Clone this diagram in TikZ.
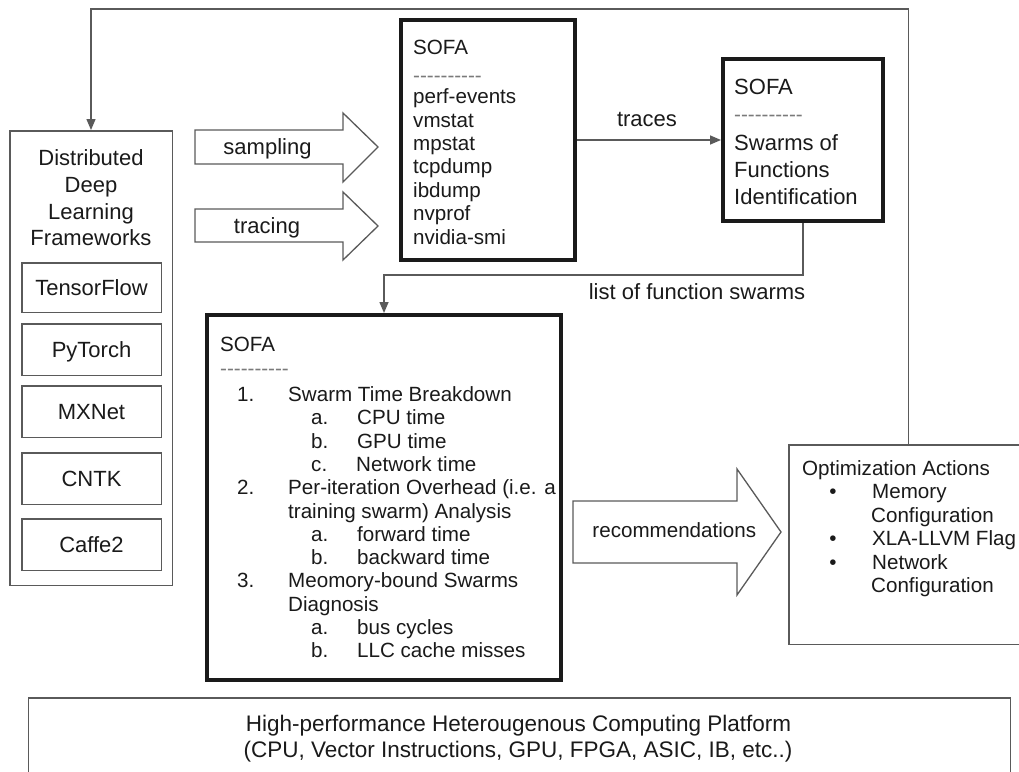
\documentclass[tikz,border=0pt]{standalone}
\usepackage{fontspec}
\setmainfont{Liberation Sans}
\usetikzlibrary{arrows.meta}
\definecolor{ink}{HTML}{1A1A1A}
\definecolor{ln}{HTML}{5A5A5A}
\definecolor{dsh}{HTML}{7A7A7A}
\definecolor{thk}{HTML}{1A1A1A}
\newcommand\hyph{\hbox{-}}
\newcommand\hyphrow{\hyph\hyph\hyph\hyph\hyph\hyph\hyph\hyph\hyph\hyph}
\begin{document}
\begin{tikzpicture}[x=1pt,y=-1pt,
  thinbox/.style={draw=ln,line width=1.5pt,fill=white,inner sep=0pt,rectangle},
  thickbox/.style={draw=thk,line width=4pt,fill=white,inner sep=0pt,rectangle},
  fwbox/.style={thinbox,minimum width=139.5pt,minimum height=51.5pt,text height=15.8pt,text depth=0pt,text=ink,font=\fontsize{22}{26}\selectfont},
  t/.style={inner sep=0pt,anchor=base west,text=ink,font=\fontsize{20.6}{23}\selectfont},
  tb/.style={t,font=\fontsize{22}{26}\selectfont},
  tbig/.style={t,anchor=base,font=\fontsize{22.5}{26}\selectfont},
  dashline/.style={t,text=dsh},
  conn/.style={draw=ln,line width=1.5pt},
  tip/.style={-{Triangle[length=11pt,width=9pt]}},
  blockarrow/.style={draw=ln,line width=1.3pt,fill=white,line join=miter},
]
\useasboundingbox (0,0) rectangle (1019,771);

% Frameworks
\node[thinbox,minimum width=162.5pt,minimum height=454.5pt] (fw) at (91,358) {};
\node[tb,anchor=base] (fwt1) at (91,165.7) {Distributed};
\node[tb,anchor=base] (fwt2) at (91,192.5) {Deep};
\node[tb,anchor=base] (fwt3) at (91,219) {Learning};
\node[tb,anchor=base] (fwt4) at (91,245.5) {Frameworks};
\node[fwbox,minimum height=49.5pt] (tf) at (91.5,287.5) {TensorFlow};
\node[fwbox] (pt) at (91.5,349.5) {PyTorch};
\node[fwbox] (mx) at (91.5,411.5) {MXNet};
\node[fwbox] (cn) at (91.5,478.5) {CNTK};
\node[fwbox] (cf) at (91.5,544.5) {Caffe2};

% block arrows
\draw[blockarrow] (195,130) -- (343,130) -- (343,113) -- (378,147) -- (343,182) -- (343,164) -- (195,164) -- cycle;
\node[tb,anchor=base] (lsamp) at (267.5,154.5) {sampling};
\draw[blockarrow] (195,209) -- (343,209) -- (343,192) -- (378,226) -- (343,260) -- (343,242) -- (195,242) -- cycle;
\node[tb,anchor=base] (ltrac) at (267,233) {tracing};

% SOFA 1
\node[thickbox,minimum width=174pt,minimum height=240pt] (s1) at (488,140) {};
\node[t] (s1a) at (413,54) {SOFA};
\node[dashline] (s1b) at (413,82.6) {\hyphrow};
\node[t] (s1c) at (413,103.6) {perf-events};
\node[t] (s1d) at (413,127) {vmstat};
\node[t] (s1e) at (413,150.4) {mpstat};
\node[t] (s1f) at (413,173.8) {tcpdump};
\node[t] (s1g) at (413,197.2) {ibdump};
\node[t] (s1h) at (413,220.6) {nvprof};
\node[t] (s1i) at (413,244) {nvidia-smi};

% SOFA 2
\node[thickbox,minimum width=160pt,minimum height=162pt] (s2) at (803,140) {};
\node[tb] (s2a) at (734,94.3) {SOFA};
\node[dashline] (s2b) at (734,121) {\hyphrow};
\node[tb] (s2c) at (734,150.7) {Swarms of};
\node[tb] (s2d) at (734,177.7) {Functions};
\node[tb] (s2e) at (734,204) {Identification};

\draw[conn,tip] (s1.east) -- (s2.west);
\node[tb,anchor=base] (ltraces) at (647,126) {traces};

% SOFA 3
\node[thickbox,minimum width=354pt,minimum height=365pt] (s3) at (384,497.5) {};
\node[t] (s3a) at (220,351) {SOFA};
\node[dashline] (s3b) at (220,375.6) {\hyphrow};
\node[t] (n1) at (237,401.5) {1.};
\node[t] (i1) at (288,401.5) {Swarm Time Breakdown};
\node[t] (n1a) at (311,424.8) {a.};
\node[t] (i1a) at (357,424.8) {CPU time};
\node[t] (n1b) at (311,448.1) {b.};
\node[t] (i1b) at (357,448.1) {GPU time};
\node[t] (n1c) at (311,471.4) {c.};
\node[t] (i1c) at (356,471.4) {Network time};
\node[t] (n2) at (237,494.7) {2.};
\node[t] (i2) at (288,494.7) {Per-iteration Overhead (i.e. a};
\node[t] (i2x) at (288,518) {training swarm) Analysis};
\node[t] (n2a) at (311,541.3) {a.};
\node[t] (i2a) at (357,541.3) {forward time};
\node[t] (n2b) at (311,564.6) {b.};
\node[t] (i2b) at (357,564.6) {backward time};
\node[t] (n3) at (237,587.9) {3.};
\node[t] (i3) at (288,587.9) {Meomory-bound Swarms};
\node[t] (i3x) at (288,611.2) {Diagnosis};
\node[t] (n3a) at (311,634.5) {a.};
\node[t] (i3a) at (357,634.5) {bus cycles};
\node[t] (n3b) at (311,657.8) {b.};
\node[t] (i3b) at (357,657.8) {LLC cache misses};

\draw[conn,tip] (s2.south) -- ++(0,52) -| (s3.north);
\node[tb,anchor=base] (llist) at (697,299) {list of function swarms};

% recommendations
\draw[blockarrow] (573,501) -- (737,501) -- (737,469) -- (781,532) -- (737,595) -- (737,563) -- (573,563) -- cycle;
\node[t,anchor=base] (lrec) at (674.3,537.3) {recommendations};

% Optimization actions
\node[thinbox,minimum width=236pt,minimum height=199.5pt] (opt) at (907,544.5) {};
\node[t] (o0) at (802,475.4) {Optimization Actions};
\node[t,anchor=base] (ob1) at (833,498.9) {•};
\node[t] (o1) at (872,498.9) {Memory};
\node[t] (o1x) at (871,522.4) {Configuration};
\node[t,anchor=base] (ob2) at (833,545.9) {•};
\node[t] (o2) at (872,545.9) {XLA-LLVM Flag};
\node[t,anchor=base] (ob3) at (833,569.4) {•};
\node[t] (o3) at (872,569.4) {Network};
\node[t] (o3x) at (871,592.9) {Configuration};

\draw[conn,tip] ([xshift=120pt]opt.north west) -- ++(0,-435) -| (fw.north);

% platform
\node[thinbox,minimum width=982pt,minimum height=100pt] (hp) at (519.5,748) {};
\node[tbig] (hp1) at (518.5,731.7) {High-performance Heterougenous Computing Platform};
\node[tbig] (hp2) at (518,757.7) {(CPU, Vector Instructions, GPU, FPGA, ASIC, IB, etc..)};
\end{tikzpicture}
\end{document}
